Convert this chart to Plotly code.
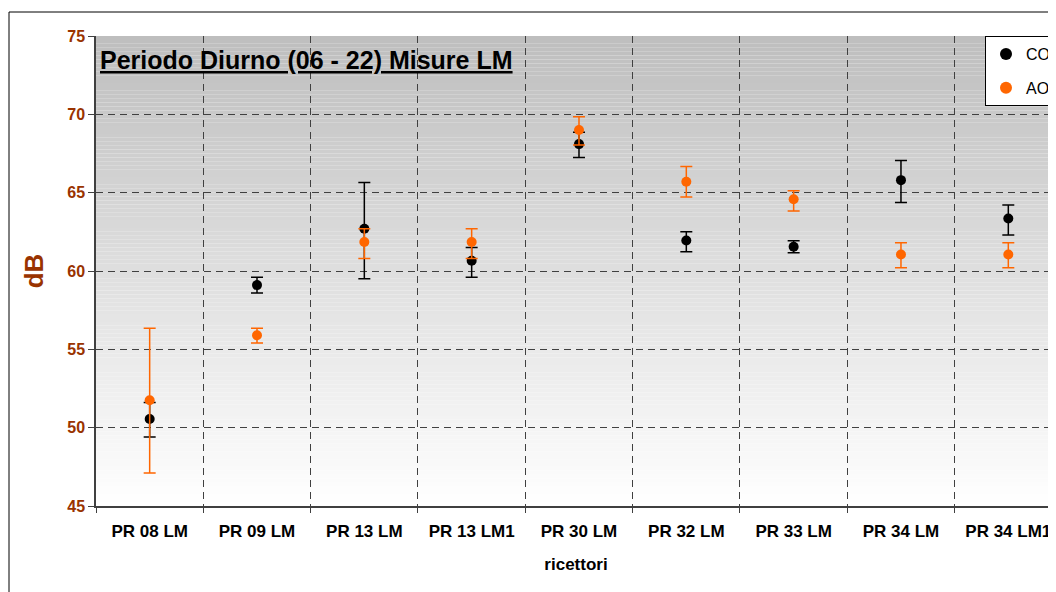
import plotly.graph_objects as go

# ---- data ----
categories = ["PR 08 LM", "PR 09 LM", "PR 13 LM", "PR 13 LM1", "PR 30 LM",
              "PR 32 LM", "PR 33 LM", "PR 34 LM", "PR 34 LM1"]

co_values = [50.55, 59.1, 62.7, 60.65, 68.1, 61.95, 61.55, 65.8, 63.35]
co_err_plus = [1.05, 0.5, 2.95, 0.85, 0.75, 0.55, 0.38, 1.25, 0.87]
co_err_minus = [1.15, 0.5, 3.2, 1.05, 0.85, 0.72, 0.38, 1.42, 1.05]

ao_values = [51.75, 55.9, 61.85, 61.85, 69.0, 65.7, 64.58, 61.05, 61.05]
ao_err_plus = [4.6, 0.45, 0.85, 0.85, 0.85, 0.97, 0.55, 0.76, 0.76]
ao_err_minus = [4.65, 0.5, 1.05, 1.05, 0.95, 0.97, 0.75, 0.85, 0.85]

series_names = ["CO", "AO"]
y_ticks = [45, 50, 55, 60, 65, 70, 75]
title_text = "Periodo Diurno (06 - 22) Misure LM"
x_title = "ricettori"
y_title = "dB"

# ---- style ----
FONT = "Liberation Sans, Arial, sans-serif"
BROWN = "#993300"
ORANGE = "#FF6600"
GRID = "#404040"

fig = go.Figure()

fig.add_trace(go.Scatter(
    x=categories, y=co_values, mode="markers", name=series_names[0],
    marker=dict(color="black", size=10),
    error_y=dict(type="data", array=co_err_plus, arrayminus=co_err_minus,
                 symmetric=False, color="black", thickness=1.5, width=6),
    legendgroup="a",
))
fig.add_trace(go.Scatter(
    x=categories, y=ao_values, mode="markers", name=series_names[1],
    marker=dict(color=ORANGE, size=10),
    error_y=dict(type="data", array=ao_err_plus, arrayminus=ao_err_minus,
                 symmetric=False, color=ORANGE, thickness=1.5, width=6),
    legendgroup="b",
))

# gradient background (grey at top -> white at bottom)
shapes = []
n_bands = 120
top_c, bot_c = 190, 255
for i in range(n_bands):
    y0 = i / n_bands
    y1 = (i + 1) / n_bands
    t = (i + 0.5) / n_bands
    v = int(round(bot_c + (top_c - bot_c) * t))
    shapes.append(dict(type="rect", xref="paper", yref="paper", x0=0, x1=1,
                       y0=y0, y1=y1, fillcolor=f"rgb({v},{v},{v})",
                       line=dict(width=0), layer="below"))

# outer chart border (left and top)
W, H = 1048, 584
ML, MT, MB = 88, 28, 86
PW = W - ML
PH = H - MT - MB
bx = (1 - ML) / PW
by = 1 + (MT - 4) / PH
shapes.append(dict(type="line", xref="paper", yref="paper",
                   x0=bx, x1=1.2, y0=by, y1=by,
                   line=dict(color="black", width=1)))
shapes.append(dict(type="line", xref="paper", yref="paper",
                   x0=bx, x1=bx, y0=by, y1=-0.3,
                   line=dict(color="black", width=1)))

fig.update_layout(
    width=W, height=H,
    margin=dict(l=ML, r=0, t=MT, b=MB, autoexpand=False),
    paper_bgcolor="white",
    plot_bgcolor="rgba(0,0,0,0)",
    shapes=shapes,
    font=dict(family=FONT, color="black"),
    showlegend=True,
    legend=dict(x=1.0, y=1.0, xanchor="right", yanchor="top",
                bgcolor="white", bordercolor="black", borderwidth=1,
                font=dict(size=16, family=FONT, color="black"),
                traceorder="grouped", tracegroupgap=10,
                itemwidth=30, itemsizing="constant"),
    annotations=[dict(
        text="<b><u>" + title_text + "</u></b>",
        xref="paper", yref="paper", x=0.002, y=0.949,
        xanchor="left", yanchor="middle", showarrow=False,
        font=dict(size=25, family=FONT, color="black"),
    )],
)

fig.update_xaxes(
    type="category", range=[-0.5, -0.5 + PW / 107.33],
    tickson="boundaries", ticks="outside", ticklen=5, tickcolor=GRID,
    showgrid=True, gridcolor=GRID, griddash="7px,5px", gridwidth=1,
    showline=True, linecolor=GRID, linewidth=1.5,
    ticklabelstandoff=9,
    tickfont=dict(size=17, family=FONT, color="black", weight="bold"),
    title=dict(text="<b>" + x_title + "</b>", standoff=18,
               font=dict(size=17, family=FONT, color="black")),
    zeroline=False,
)
fig.update_yaxes(
    range=[45, 75], tickvals=y_ticks,
    ticks="outside", ticklen=6, tickcolor=GRID,
    showgrid=True, gridcolor=GRID, griddash="7px,5px", gridwidth=1,
    showline=True, linecolor=GRID, linewidth=1.5,
    tickfont=dict(size=16, family=FONT, color=BROWN, weight="bold"),
    title=dict(text="<b>" + y_title + "</b>", standoff=16,
               font=dict(size=26, family=FONT, color=BROWN)),
    zeroline=False,
)

fig.write_html("out.html")
